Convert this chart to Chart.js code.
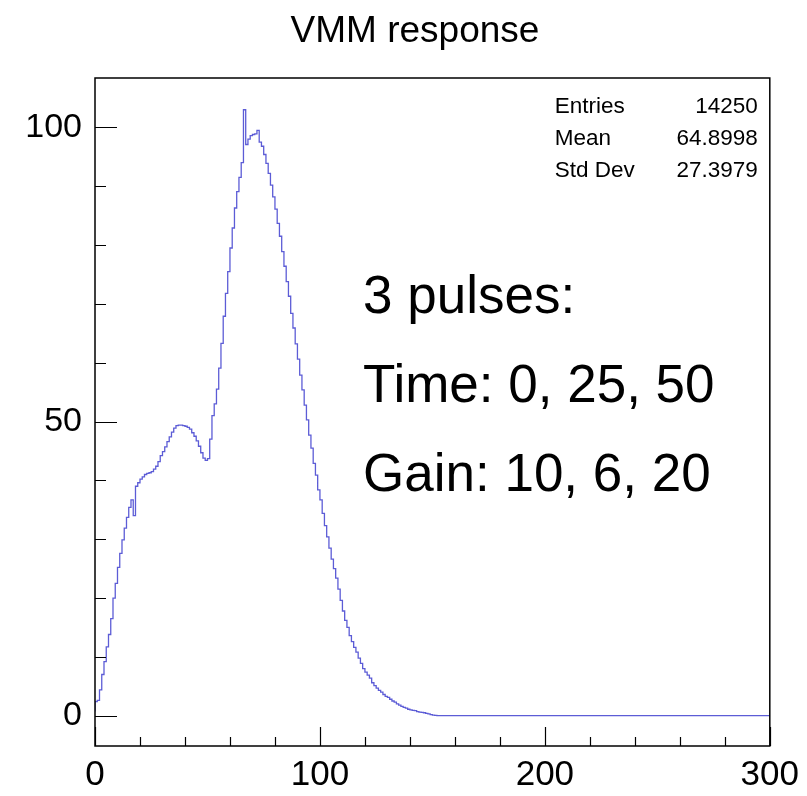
<!DOCTYPE html>
<html>
<head>
<meta charset="utf-8">
<title>VMM response</title>
<script src="https://cdn.jsdelivr.net/npm/chart.js"></script>
<style>
  html, body { margin: 0; padding: 0; background: #fff; }
</style>
</head>
<body>
<canvas id="vmmChart" width="807" height="796"></canvas>
<script>
// --- Histogram (bin width 1, range 0-300) ---
const binLow = 0;
const binWidth = 1;
const counts = [
    0.7, 2.4, 2.6, 4.4, 7.0, 9.2, 11.7, 13.8, 16.5, 20.0,
    22.5, 25.2, 27.6, 29.9, 31.9, 33.7, 35.4, 36.7, 34.0, 39.0,
    39.6, 40.2, 40.6, 41.0, 41.2, 41.3, 41.5, 41.9, 42.4, 43.2,
    44.2, 44.9, 45.7, 46.6, 47.4, 48.2, 48.9, 49.3, 49.4, 49.4,
    49.3, 49.2, 49.0, 48.7, 48.1, 47.5, 46.7, 45.8, 44.7, 43.8,
    43.4, 43.7, 47.0, 51.0, 53.0, 55.5, 59.1, 63.3, 67.9, 71.8,
    75.5, 79.5, 82.9, 86.3, 89.1, 91.5, 94.0, 103.0, 97.1, 98.0,
    98.6, 98.8, 98.9, 99.5, 97.5, 96.8, 95.4, 93.9, 92.2, 90.2,
    88.2, 86.1, 83.7, 81.5, 78.9, 76.4, 73.8, 71.3, 68.4, 65.9,
    63.2, 60.6, 57.9, 55.4, 52.8, 50.3, 47.7, 45.5, 42.9, 40.9,
    38.4, 36.7, 34.4, 32.3, 30.4, 28.5, 26.6, 25.0, 23.4, 21.5,
    19.6, 17.8, 16.2, 15.0, 13.6, 12.6, 11.6, 10.8, 9.8, 8.9,
    8.0, 7.4, 6.9, 6.4, 5.6, 5.1, 4.7, 4.3, 4.0, 3.6,
    3.3, 3.1, 2.8, 2.5, 2.3, 2.0, 1.8, 1.6, 1.4, 1.3,
    1.1, 1.0, 0.9, 0.85, 0.7, 0.6, 0.55, 0.5, 0.4, 0.3,
    0.2, 0.1, 0.05, 0, 0, 0, 0, 0, 0, 0,
    0, 0, 0, 0, 0, 0, 0, 0, 0, 0, 0, 0, 0, 0, 0, 0, 0, 0, 0, 0,
    0, 0, 0, 0, 0, 0, 0, 0, 0, 0, 0, 0, 0, 0, 0, 0, 0, 0, 0, 0,
    0, 0, 0, 0, 0, 0, 0, 0, 0, 0, 0, 0, 0, 0, 0, 0, 0, 0, 0, 0,
    0, 0, 0, 0, 0, 0, 0, 0, 0, 0, 0, 0, 0, 0, 0, 0, 0, 0, 0, 0,
    0, 0, 0, 0, 0, 0, 0, 0, 0, 0, 0, 0, 0, 0, 0, 0, 0, 0, 0, 0,
    0, 0, 0, 0, 0, 0, 0, 0, 0, 0, 0, 0, 0, 0, 0, 0, 0, 0, 0, 0,
    0, 0, 0, 0, 0, 0, 0, 0, 0, 0, 0, 0, 0, 0, 0, 0, 0, 0, 0, 0
];

// axis ticks (ROOT style: majors labelled, minors unlabelled)
const xMin = 0, xMax = 300;
const xTickValues = [0, 20, 40, 60, 80, 100, 120, 140, 160, 180, 200, 220, 240, 260, 280, 300];
const xLabelValues = [0, 100, 200, 300];
const yMin = -5.15, yMax = 108.4;
const yTickValues = [0, 10, 20, 30, 40, 50, 60, 70, 80, 90, 100];
const yLabelValues = [0, 50, 100];

const titleText = 'VMM response';
const statsRows = [
    ['Entries', '14250'],
    ['Mean', '64.8998'],
    ['Std Dev', '27.3979']
];
const noteLines = ['3 pulses:', 'Time: 0, 25, 50', 'Gain: 10, 6, 20'];

const FONT = '"Liberation Sans", Arial, Helvetica, sans-serif';

// step line points: each bin from its low edge, closed at the upper edge of the last bin
const histPoints = counts.map((c, i) => ({ x: binLow + i * binWidth, y: c }));
histPoints.push({ x: binLow + counts.length * binWidth, y: counts[counts.length - 1] });

// title, frame, inward tick marks, stats box and the text note
const rootDecor = {
    id: 'rootDecor',
    afterDatasetsDraw(chart) {
        const { ctx, chartArea: a, scales: { x, y } } = chart;
        ctx.save();
        ctx.strokeStyle = '#000';
        ctx.lineWidth = 1.5;
        ctx.strokeRect(a.left, a.top, a.right - a.left, a.bottom - a.top);

        ctx.lineWidth = 1.2;
        ctx.beginPath();
        xTickValues.forEach(v => {
            const px = Math.round(x.getPixelForValue(v)) + 0.5;
            const len = xLabelValues.includes(v) ? 19 : 9;
            ctx.moveTo(px, a.bottom);
            ctx.lineTo(px, a.bottom - len);
        });
        yTickValues.forEach(v => {
            const py = Math.round(y.getPixelForValue(v)) + 0.5;
            const len = yLabelValues.includes(v) ? 22 : 11;
            ctx.moveTo(a.left, py);
            ctx.lineTo(a.left + len, py);
        });
        ctx.stroke();

        ctx.fillStyle = '#000';
        ctx.textBaseline = 'alphabetic';

        ctx.font = '37px ' + FONT;
        ctx.textAlign = 'center';
        ctx.fillText(titleText, 415, 42);

        ctx.font = '22.5px ' + FONT;
        statsRows.forEach((row, i) => {
            const by = a.top + 35 + i * 32;
            ctx.textAlign = 'left';
            ctx.fillText(row[0], a.right - 215, by);
            ctx.textAlign = 'right';
            ctx.fillText(row[1], a.right - 12, by);
        });

        ctx.font = '53px ' + FONT;
        ctx.textAlign = 'left';
        noteLines.forEach((line, i) => {
            ctx.fillText(line, 363, 313 + i * 89);
        });
        ctx.restore();
    }
};

new Chart(document.getElementById('vmmChart'), {
    type: 'line',
    data: {
        datasets: [{
            label: 'VMM response',
            data: histPoints,
            stepped: 'after',
            borderColor: '#5c5cd6',
            borderWidth: 1.3,
            pointRadius: 0,
            fill: false
        }]
    },
    options: {
        responsive: false,
        animation: false,
        layout: { padding: { left: 0, right: 37, top: 78, bottom: 0 } },
        plugins: {
            legend: { display: false },
            tooltip: { enabled: false },
            title: { display: false }
        },
        scales: {
            x: {
                type: 'linear',
                min: xMin,
                max: xMax,
                afterBuildTicks: s => { s.ticks = xTickValues.map(v => ({ value: v })); },
                afterFit: s => { s.height = 50; },
                grid: { display: false, drawTicks: false },
                border: { display: false },
                ticks: {
                    autoSkip: false,
                    maxRotation: 0,
                    padding: 8,
                    color: '#000',
                    font: { family: FONT, size: 35 },
                    callback: v => xLabelValues.includes(v) ? String(v) : ''
                }
            },
            y: {
                type: 'linear',
                min: yMin,
                max: yMax,
                afterBuildTicks: s => { s.ticks = yTickValues.map(v => ({ value: v })); },
                afterFit: s => { s.width = 95; },
                grid: { display: false, drawTicks: false },
                border: { display: false },
                ticks: {
                    autoSkip: false,
                    padding: 13,
                    color: '#000',
                    font: { family: FONT, size: 34 },
                    callback: v => yLabelValues.includes(v) ? String(v) : ''
                }
            }
        }
    },
    plugins: [rootDecor]
});
</script>
</body>
</html>
